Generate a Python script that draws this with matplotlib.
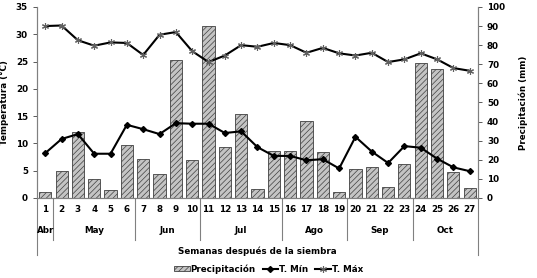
import matplotlib
matplotlib.use("Agg")
import matplotlib.pyplot as plt
import numpy as np
from matplotlib.transforms import blended_transform_factory
from matplotlib.lines import Line2D

weeks = list(range(1, 28))
precip = [3.1, 14.0, 34.6, 9.8, 4.0, 27.7, 20.4, 12.7, 72.4, 19.9, 89.9, 26.5, 44.2, 4.7,
          24.4, 24.4, 40.3, 23.9, 3.3, 15.4, 16.2, 5.8, 18.0, 70.7, 67.5, 13.8, 5.2]
tmin = [8.2, 10.8, 11.7, 8.1, 8.1, 13.4, 12.6, 11.7, 13.7, 13.6, 13.6, 11.9, 12.2, 9.3,
        7.7, 7.7, 6.9, 7.1, 5.4, 11.2, 8.5, 6.4, 9.5, 9.2, 7.2, 5.6, 4.9]
tmax = [31.5, 31.6, 28.9, 27.9, 28.5, 28.4, 26.2, 29.9, 30.4, 26.9, 24.9, 26.1, 28.0, 27.7,
        28.4, 28.0, 26.6, 27.5, 26.5, 26.1, 26.6, 24.9, 25.4, 26.5, 25.4, 23.8, 23.3]
months = ["Abr", "May", "Jun", "Jul", "Ago", "Sep", "Oct"]
month_start = [1, 2, 7, 11, 16, 20, 24]
month_end = [1, 6, 10, 15, 19, 23, 27]

plt.rcParams['font.family'] = ['DejaVu Sans']
plt.rcParams['hatch.color'] = '#8a8a8a'
plt.rcParams['hatch.linewidth'] = 0.5

fig = plt.figure(figsize=(5.37, 2.78), dpi=100)
ax = fig.add_axes([0.069, 0.288, 0.821, 0.687])
ax2 = ax.twinx()

x = np.array(weeks)
bars = ax2.bar(x, precip, width=0.74, color='#c4c4c4', edgecolor='#404040',
               linewidth=0.6, hatch='//////', label='Precipitación')
ax2.set_ylim(0, 100)
ax2.set_yticks(range(0, 101, 10))

ax.set_zorder(ax2.get_zorder() + 1)
ax.patch.set_visible(False)

ax.plot(x, tmin, color='black', lw=1.5, marker='D', ms=3, label='T. Mín')
ax.plot(x, tmax, color='black', lw=1.5, marker=(6, 2, 0), ms=5,
        markeredgecolor='#606060', markeredgewidth=0.8, label='T. Máx')
ax.set_ylim(0, 35)
ax.set_yticks(range(0, 36, 5))
ax.set_xlim(0.5, 27.5)

fs = 6.3
for a in (ax, ax2):
    a.tick_params(axis='y', labelsize=fs, length=3, width=0.6, colors='#404040',
                  labelcolor='black')
    for lbl in a.get_yticklabels():
        lbl.set_fontweight('bold')
    for s in ['top']:
        a.spines[s].set_visible(False)
    for s in ['left', 'right', 'bottom']:
        a.spines[s].set_color('#808080')
        a.spines[s].set_linewidth(0.8)

ax.set_xticks(x)
ax.set_xticklabels([str(w) for w in weeks], fontsize=fs, fontweight='bold')
ax.tick_params(axis='x', length=0, pad=5)
ax2.tick_params(axis='x', length=0)

ax.set_ylabel('Temperatura (°C)', fontsize=fs, fontweight='bold', labelpad=5)
ax2.set_ylabel('Precipitación (mm)', fontsize=fs, fontweight='bold', labelpad=10)

trans = blended_transform_factory(ax.transData, ax.transAxes)
for m, s, e in zip(months, month_start, month_end):
    ax.text((s + e) / 2, -0.173, m, transform=trans, ha='center', va='center',
            fontsize=fs, fontweight='bold')
bounds = [0.5] + [e + 0.5 for e in month_end]
for i, b in enumerate(bounds):
    y0 = -0.30 if i in (0, len(bounds) - 1) else -0.22
    ax.add_line(Line2D([b, b], [0, y0], transform=trans, color='#808080',
                       lw=0.8, clip_on=False))

ax.text(14, -0.277, 'Semanas después de la siembra', transform=trans, ha='center',
        va='center', fontsize=fs, fontweight='bold')

handles = [bars, ax.get_lines()[0], ax.get_lines()[1]]
fig.legend(handles, ['Precipitación', 'T. Mín', 'T. Máx'], loc='center',
           bbox_to_anchor=(0.5, 0.032), ncol=3, frameon=False,
           prop={'size': fs, 'weight': 'bold'}, handlelength=1.8,
           handleheight=0.5, handletextpad=0.1, columnspacing=0.8)

fig.savefig('out.png', dpi=100)
